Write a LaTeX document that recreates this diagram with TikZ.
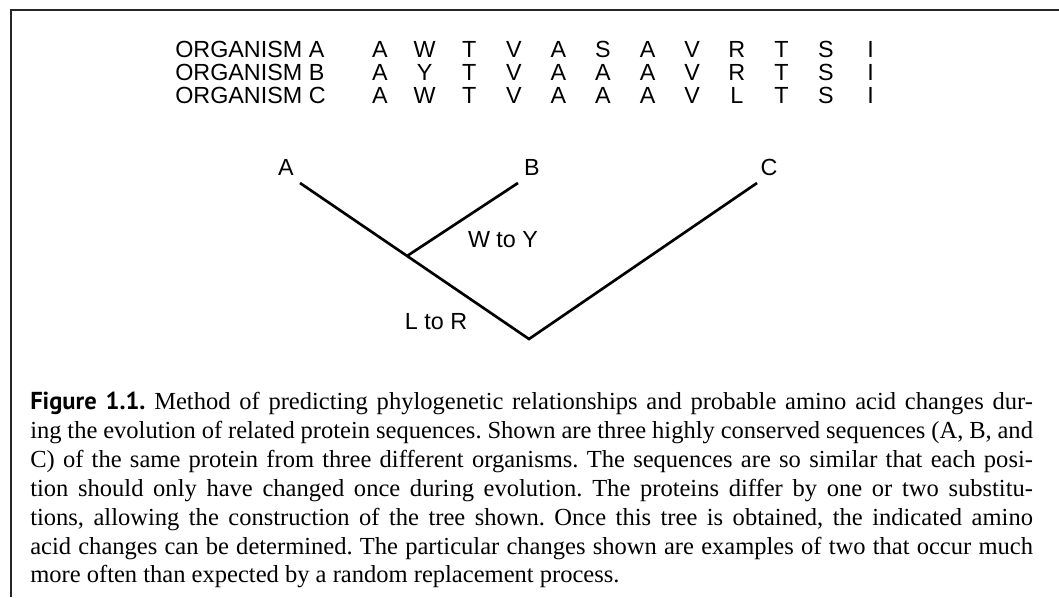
\documentclass[tikz,border=0pt]{standalone}
\usepackage{fontspec}
\setmainfont{Liberation Serif}
\newfontfamily\seqfont{Liberation Sans}
\newfontfamily\figfont{PT Sans}
\frenchspacing
\begin{document}
\begin{tikzpicture}[x=0.75pt,y=-0.75pt,
  seq/.style={font=\seqfont\fontsize{17.5}{20}\selectfont, inner sep=0pt, anchor=base},
  orglbl/.style={seq, anchor=base west},
  leaf/.style={font=\seqfont\fontsize{17.5}{20}\selectfont, inner sep=0pt, anchor=base},
  change/.style={font=\seqfont\fontsize{17.5}{20}\selectfont, inner sep=0pt, anchor=base},
  branch/.style={line width=2pt},
  frame/.style={line width=1.5pt, draw=black!85},
  capline/.style={font=\fontsize{18.4}{22}\selectfont, inner sep=0pt, anchor=base west}
  ]
\useasboundingbox (0,0) rectangle (1059,597);
% frame
\coordinate (fb) at (11,597);
\coordinate (fc) at (11,10);
\coordinate (fr) at (1059,10);
\draw[frame] (fb) -- (fc) -- (fr);

% sequence alignment
\foreach \r/\yy/\org/\seqq in {1/57/A/{A,W,T,V,A,S,A,V,R,T,S,I},2/80/B/{A,Y,T,V,A,A,A,V,R,T,S,I},3/103/C/{A,W,T,V,A,A,A,V,L,T,S,I}}{
  \node[orglbl] (org\r) at (175,\yy) {ORGANISM \org};
  \foreach \c [count=\i] in \seqq {
    \node[seq] (s\r-\i) at ({380+44.6*(\i-1)},\yy) {\c};
  }
}

% tree
\node[leaf] (la) at (286,175) {A};
\node[leaf] (lb) at (532,175) {B};
\node[leaf] (lc) at (769,175) {C};
\coordinate (ta) at (300,183);
\coordinate (tb) at (518,183);
\coordinate (tc) at (757,183);
\coordinate (junc) at (407,256);
\coordinate (root) at (529,339);
\draw[branch] (ta) -- (root) -- (tc);
\draw[branch] (junc) -- (tb);
\node[change] (wy) at (503,247) {W to Y};
\node[change] (lr) at (436,329) {L to R};

% caption
\node[capline] (c1) at (30,409) {\makebox[752pt][s]{{\figfont\bfseries Figure 1.1.} Method of predicting phylogenetic relationships and probable amino acid changes dur-}};
\node[capline] (c2) at (30,438) {\makebox[752pt][s]{ing the evolution of related protein sequences. Shown are three highly conserved sequences (A, B, and}};
\node[capline] (c3) at (30,467) {\makebox[752pt][s]{C) of the same protein from three different organisms. The sequences are so similar that each posi-}};
\node[capline] (c4) at (30,496) {\makebox[752pt][s]{tion should only have changed once during evolution. The proteins differ by one or two substitu-}};
\node[capline] (c5) at (30,525) {\makebox[752pt][s]{tions, allowing the construction of the tree shown. Once this tree is obtained, the indicated amino}};
\node[capline] (c6) at (30,554) {\makebox[752pt][s]{acid changes can be determined. The particular changes shown are examples of two that occur much}};
\node[capline] (c7) at (30,582) {more often than expected by a random replacement process.};
\end{tikzpicture}
\end{document}
